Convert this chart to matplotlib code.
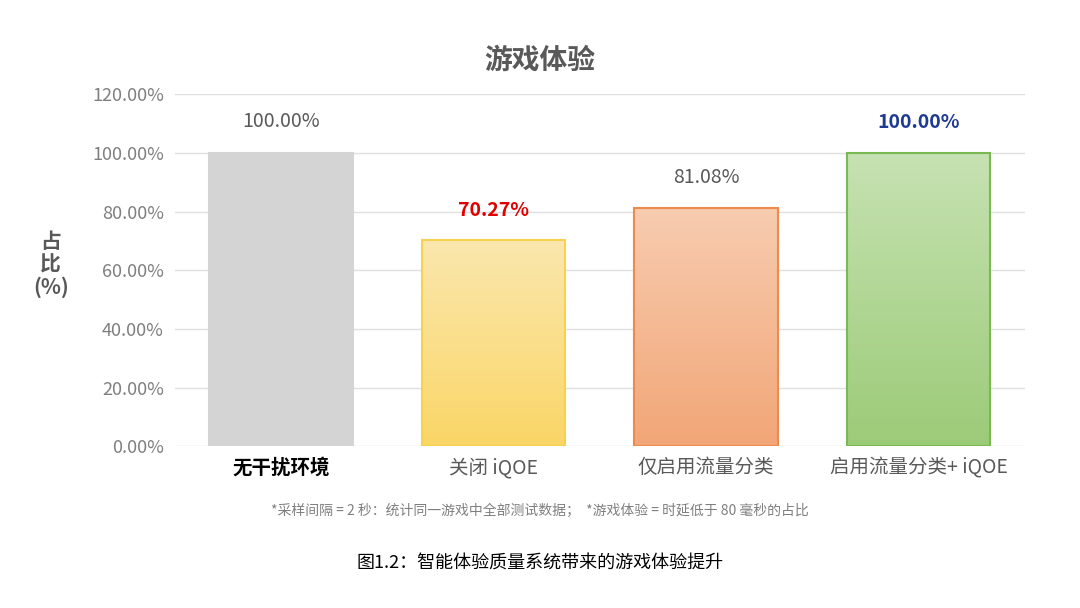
import numpy as np
import matplotlib.pyplot as plt
from matplotlib.colors import LinearSegmentedColormap

plt.rcParams['font.family'] = ['Noto Sans CJK SC', 'DejaVu Sans']

categories = ['无干扰环境', '关闭 iQOE', '仅启用流量分类', '启用流量分类+ iQOE']
values = [100.00, 70.27, 81.08, 100.00]
labels = ['100.00%', '70.27%', '81.08%', '100.00%']
label_colors = ['#595959', '#e00000', '#595959', '#1f3a93']
label_bold = [False, True, False, True]
tops = ['#d4d4d4', '#fbe7ae', '#f7ccb0', '#c6e2b2']
bottoms = ['#d4d4d4', '#fad667', '#f2a677', '#9ccb78']
edges = ['#d4d4d4', '#f5d24f', '#ed8a4c', '#7ab852']

fig = plt.figure(figsize=(10.8, 6.08), dpi=100)
ax = fig.add_axes([0.162, 0.266, 0.787, 0.579])
x = np.arange(len(categories))
w = 0.675
for i, v in enumerate(values):
    cmap = LinearSegmentedColormap.from_list('g', [bottoms[i], tops[i]])
    grad = np.linspace(0, 1, 256).reshape(-1, 1)
    ax.imshow(grad, cmap=cmap, origin='lower', aspect='auto',
              extent=(x[i] - w / 2, x[i] + w / 2, 0, v), zorder=2)
    ax.bar(x[i], v, w, facecolor='none', edgecolor=edges[i], linewidth=1.5, zorder=3)
    ax.text(x[i], v + 7, labels[i], ha='center', va='bottom', fontsize=14,
            color=label_colors[i], fontweight='bold' if label_bold[i] else 'normal')

ax.set_xlim(-0.5, 3.5)
ax.set_ylim(0, 120)
ax.set_yticks(np.arange(0, 121, 20))
ax.set_yticklabels([f'{t:.2f}%' for t in range(0, 121, 20)], fontsize=13, color='#7f7f7f')
ax.set_xticks(x)
ax.set_xticklabels(categories, fontsize=14, color='#595959')
tl = ax.get_xticklabels()[0]
tl.set_fontweight('bold')
tl.set_color('black')
ax.tick_params(length=0, pad=8)
ax.grid(axis='y', color='#e0e0e0', linewidth=1, zorder=0)
ax.set_axisbelow(True)
for s in ax.spines.values():
    s.set_visible(False)

fig.text(0.5, 0.9, '游戏体验', ha='center', va='center', fontsize=20,
         fontweight='bold', color='#595959')
fig.text(0.047, 0.565, '占\n比\n(%)', ha='center', va='center', fontsize=15,
         fontweight='bold', color='#595959', linespacing=1.1)
fig.text(0.5, 0.16, '*采样间隔 = 2 秒：统计同一游戏中全部测试数据；  *游戏体验 = 时延低于 80 毫秒的占比',
         ha='center', va='center', fontsize=10, color='#7f7f7f')
fig.text(0.5, 0.073, '图1.2：智能体验质量系统带来的游戏体验提升', ha='center', va='center',
         fontsize=13, color='black')
fig.savefig('out.png', dpi=100)
